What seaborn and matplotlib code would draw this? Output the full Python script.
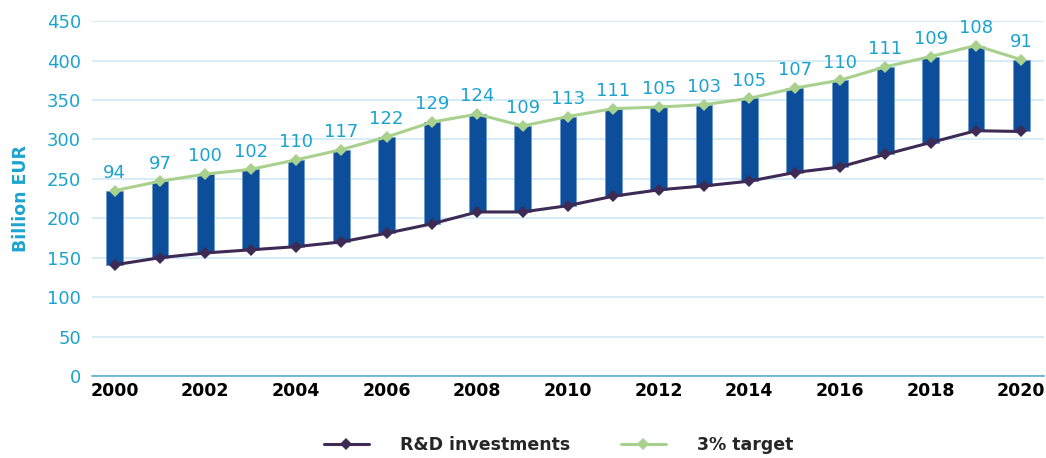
import numpy as np
import pandas as pd
import seaborn as sns
import matplotlib.pyplot as plt

years = list(range(2000, 2021))
rd_invest = [141, 150, 156, 160, 164, 170, 181, 193, 208, 208, 216,
             228, 236, 241, 247, 258, 265, 281, 296, 311, 310]
gap = [94, 97, 100, 102, 110, 117, 122, 129, 124, 109, 113,
       111, 105, 103, 105, 107, 110, 111, 109, 108, 91]
target = [r + g for r, g in zip(rd_invest, gap)]

teal = '#1ba3cf'
bar_col = '#0d4e9b'
rd_col = '#3d2a55'
tg_col = '#a9d18e'

df = pd.DataFrame({'year': years, 'R&D investments': rd_invest, '3% target': target})
long = df.melt(id_vars='year', var_name='series', value_name='value')

sns.set_style('white')
plt.rcParams['font.family'] = ['DejaVu Sans']

fig = plt.figure(figsize=(10.46, 4.58), dpi=100)
ax = fig.add_axes([0.088, 0.179, 0.91, 0.775])

# floating bars between R&D and target
ax.bar(df['year'], df['3% target'] - df['R&D investments'], bottom=df['R&D investments'],
       width=0.37, color=bar_col, edgecolor='#6f9ad0', linewidth=0.6, zorder=2)

sns.lineplot(data=long, x='year', y='value', hue='series',
             palette={'R&D investments': rd_col, '3% target': tg_col},
             marker='D', markersize=6, markeredgewidth=0, linewidth=2.2,
             ax=ax, zorder=3)

for x, t, g in zip(years, target, gap):
    ax.text(x, t + 11, str(g), ha='center', va='bottom', color=teal, fontsize=13)

ax.set_xlim(1999.5, 2020.5)
ax.set_ylim(0, 450)
ax.set_yticks(range(0, 451, 50))
ax.set_xticks(range(2000, 2021, 2))
ax.yaxis.grid(True, color='#cfe9f5', linewidth=1.2, zorder=0)
ax.set_axisbelow(True)
for s in ['top', 'right', 'left']:
    ax.spines[s].set_visible(False)
ax.spines['bottom'].set_color('#5aaed0')
ax.spines['bottom'].set_linewidth(1.2)
ax.tick_params(axis='y', colors=teal, labelsize=13, length=0, pad=8)
ax.tick_params(axis='x', colors='black', labelsize=12.5, length=0, pad=4)
for lbl in ax.get_xticklabels():
    lbl.set_fontweight('bold')
ax.set_xlabel('')
ax.set_ylabel('Billion EUR', color=teal, fontsize=12.5, fontweight='bold', labelpad=12)

handles, labels = ax.get_legend_handles_labels()
ax.legend(handles, labels, loc='upper center', bbox_to_anchor=(0.49, -0.125),
          ncol=2, frameon=False, fontsize=12.5, handlelength=2.6,
          columnspacing=2.9, handletextpad=1.8)
for t in ax.get_legend().get_texts():
    t.set_fontweight('bold')

plt.savefig('out.png', dpi=100)
